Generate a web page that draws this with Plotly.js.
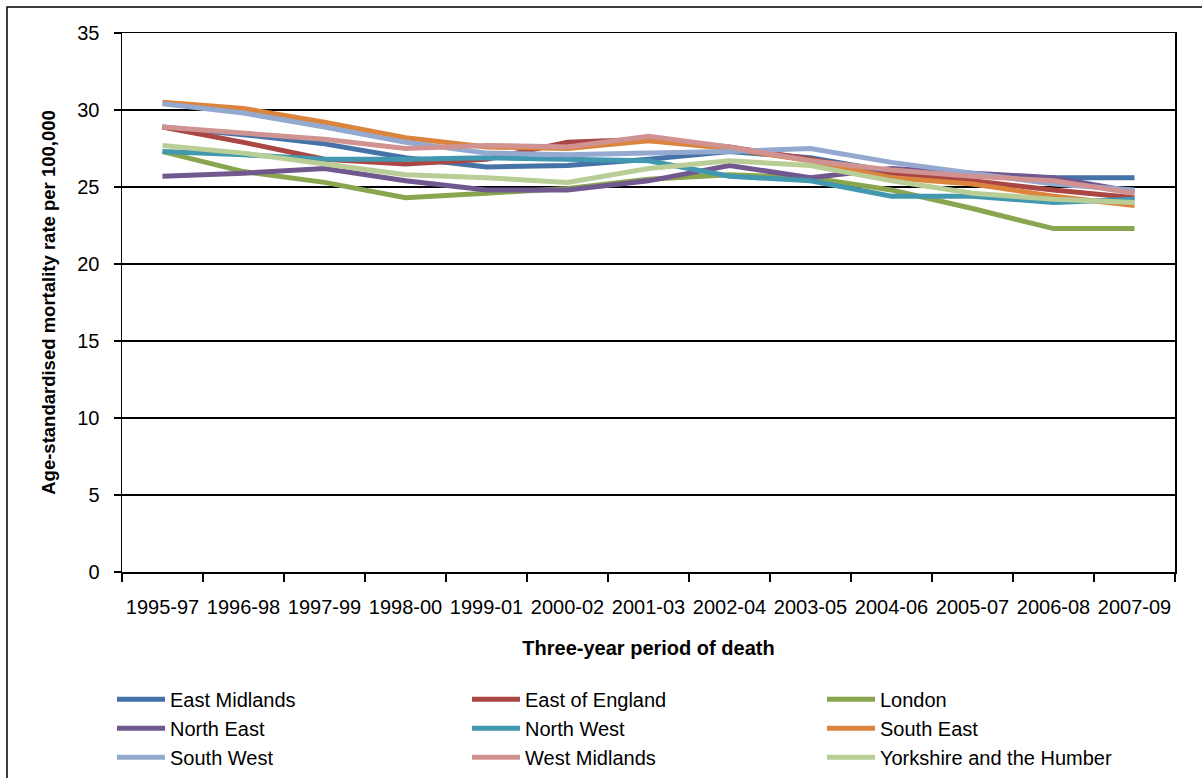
<!DOCTYPE html>
<html>
<head>
<meta charset="utf-8">
<script src="https://cdn.plot.ly/plotly-3.0.1.min.js"></script>
<style>
  html, body { margin: 0; padding: 0; background: #fff; }
  #chart { width: 1202px; height: 778px; }
</style>
</head>
<body>
<div id="chart"></div>
<script>
// Three-year periods of death (x categories)
const periods = ['1995-97', '1996-98', '1997-99', '1998-00', '1999-01', '2000-02', '2001-03',
                 '2002-04', '2003-05', '2004-06', '2005-07', '2006-08', '2007-09'];

// Age-standardised mortality rate per 100,000, by region
const eastMidlands   = [28.9, 28.4, 27.8, 26.9, 26.3, 26.4, 26.8, 27.3, 26.9, 26.0, 25.7, 25.6, 25.6];
const eastOfEngland  = [28.9, 27.9, 26.8, 26.5, 26.8, 27.9, 28.1, 27.6, 26.8, 25.9, 25.4, 24.8, 24.3];
const london         = [27.3, 26.0, 25.3, 24.3, 24.6, 24.9, 25.5, 25.8, 25.6, 24.8, 23.6, 22.3, 22.3];
const northEast      = [25.7, 25.9, 26.2, 25.4, 24.8, 24.8, 25.4, 26.4, 25.6, 26.2, 25.9, 25.6, 24.7];
const northWest      = [27.3, 27.1, 26.8, 26.8, 26.9, 26.8, 26.7, 25.7, 25.4, 24.4, 24.4, 24.0, 24.2];
const southEast      = [30.5, 30.1, 29.2, 28.2, 27.6, 27.5, 28.0, 27.5, 26.7, 25.6, 25.2, 24.4, 23.8];
const southWest      = [30.4, 29.8, 28.9, 27.9, 27.2, 27.1, 27.2, 27.3, 27.5, 26.6, 25.9, 25.2, 24.8];
const westMidlands   = [28.9, 28.5, 28.1, 27.5, 27.7, 27.6, 28.3, 27.6, 26.7, 26.1, 25.7, 25.4, 24.6];
const yorkshire      = [27.7, 27.2, 26.5, 25.8, 25.6, 25.3, 26.2, 26.7, 26.4, 25.4, 24.6, 24.2, 24.0];

const regionNames = ['East Midlands', 'East of England', 'London', 'North East', 'North West',
                     'South East', 'South West', 'West Midlands', 'Yorkshire and the Humber'];
const regionValues = [eastMidlands, eastOfEngland, london, northEast, northWest,
                      southEast, southWest, westMidlands, yorkshire];
const regionColors = ['#4572A7', '#AA4643', '#89A54E', '#71588F', '#4198AF',
                      '#DB843D', '#93A9CF', '#D19392', '#B9CD96'];

const FONT = 'Liberation Sans, Arial, Helvetica, sans-serif';

const traces = regionNames.map((name, i) => ({
  type: 'scatter',
  mode: 'lines',
  name: name,
  x: periods,
  y: regionValues[i],
  line: { color: regionColors[i], width: 5 },
  hoverinfo: 'x+y+name'
}));

const layout = {
  width: 1202,
  height: 778,
  margin: { l: 122, r: 27, t: 33, b: 206, autoexpand: false },
  paper_bgcolor: '#ffffff',
  plot_bgcolor: '#ffffff',
  font: { family: FONT, size: 20, color: '#000' },
  showlegend: true,
  xaxis: {
    type: 'category',
    range: [-0.5, periods.length - 0.5],
    tickson: 'boundaries',
    tickangle: 0,
    ticks: 'outside',
    ticklen: 8,
    tickwidth: 1.5,
    tickcolor: '#000',
    showgrid: false,
    showline: true,
    linecolor: '#000',
    linewidth: 1.5,
    mirror: true,
    ticklabelstandoff: 16,
    tickfont: { family: FONT, size: 20, color: '#000' },
    title: {
      text: '<b>Three-year period of death</b>',
      font: { family: FONT, size: 20, color: '#000' },
      standoff: 24
    },
    automargin: false,
    fixedrange: true
  },
  yaxis: {
    range: [0, 35],
    dtick: 5,
    tick0: 0,
    ticks: 'outside',
    ticklen: 7,
    tickwidth: 1.5,
    tickcolor: '#000',
    showgrid: true,
    gridcolor: '#000',
    gridwidth: 1.2,
    zeroline: false,
    showline: true,
    linecolor: '#000',
    linewidth: 1.5,
    mirror: true,
    ticklabelstandoff: 10,
    tickfont: { family: FONT, size: 20, color: '#000' },
    title: {
      text: '<b>Age-standardised mortality rate per 100,000</b>',
      font: { family: FONT, size: 18.5, color: '#000' },
      standoff: 17
    },
    automargin: false,
    fixedrange: true
  },
  legend: {
    orientation: 'h',
    x: -0.0095,
    xanchor: 'left',
    y: -0.2,
    yanchor: 'top',
    entrywidth: 292,
    entrywidthmode: 'pixels',
    itemwidth: 48,
    traceorder: 'normal',
    font: { family: FONT, size: 20, color: '#000' },
    bgcolor: 'rgba(0,0,0,0)'
  },
  shapes: [
    {
      // outer chart frame
      type: 'rect',
      xref: 'paper', yref: 'paper',
      x0: (7 - 122) / 1053, x1: (1215 - 122) / 1053,
      y0: (572 - 7) / 539, y1: (572 - 800) / 539,
      line: { color: '#000', width: 1.5 },
      fillcolor: 'rgba(0,0,0,0)',
      layer: 'below'
    }
  ]
};

Plotly.newPlot('chart', traces, layout, { displayModeBar: false, staticPlot: true });
</script>
</body>
</html>
